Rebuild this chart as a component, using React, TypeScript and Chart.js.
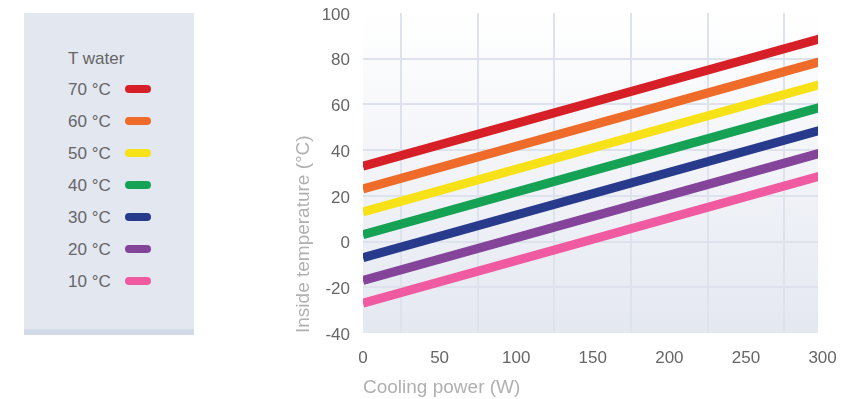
import React, { useEffect, useRef } from "react";
import { Chart, registerables } from "chart.js";

Chart.register(...registerables);

const legendTitle = "T water";
const waterTempLabels = ["70 °C", "60 °C", "50 °C", "40 °C", "30 °C", "20 °C", "10 °C"];
const seriesColors = ["#d71f27", "#ee6b2a", "#f7e117", "#16a255", "#283a8c", "#83449a", "#f05aa0"];

const coolingPower = [0, 300];
const tWater70 = [33, 89];
const tWater60 = [23, 79];
const tWater50 = [13, 69];
const tWater40 = [3, 59];
const tWater30 = [-7, 49];
const tWater20 = [-17, 39];
const tWater10 = [-27, 29];
const seriesValues = [tWater70, tWater60, tWater50, tWater40, tWater30, tWater20, tWater10];

const xTicks = [0, 50, 100, 150, 200, 250, 300];
const xTitle = "Cooling power (W)";
const yTitle = "Inside temperature (°C)";

const FONT = "'Liberation Sans', Arial, Helvetica, sans-serif";

const bgPlugin = {
  id: "plotBg",
  beforeDraw(chart: any) {
    const { ctx, chartArea } = chart;
    if (!chartArea) return;
    const g = ctx.createLinearGradient(0, chartArea.top, 0, chartArea.bottom);
    g.addColorStop(0, "#ffffff");
    g.addColorStop(1, "#e4e8f1");
    ctx.save();
    ctx.fillStyle = g;
    ctx.fillRect(chartArea.left, chartArea.top, chartArea.right - chartArea.left, chartArea.bottom - chartArea.top);
    ctx.restore();
  },
};

export default function App() {
  const ref = useRef<HTMLCanvasElement | null>(null);

  useEffect(() => {
    if (!ref.current) return;
    const datasets = seriesValues.map((vals, i) => ({
      label: waterTempLabels[i],
      data: coolingPower.map((x, j) => ({ x, y: vals[j] })),
      borderColor: seriesColors[i],
      backgroundColor: seriesColors[i],
      borderWidth: 9,
      pointRadius: 0,
      borderCapStyle: "butt" as const,
      tension: 0,
      clip: 0,
    }));
    const chart = new Chart(ref.current, {
      type: "line",
      data: { datasets },
      plugins: [bgPlugin],
      options: {
        animation: false,
        responsive: false,
        devicePixelRatio: 1,
        layout: { padding: { left: 280, right: 32, top: 13, bottom: 0 } },
        plugins: { legend: { display: false }, tooltip: { enabled: false } },
        scales: {
          x: {
            type: "linear",
            min: 0,
            max: 297,
            afterBuildTicks: (scale: any) => {
              scale.ticks = xTicks.map((v) => ({ value: v }));
            },
            afterFit: (scale: any) => {
              scale.height = 66;
              scale.paddingLeft = 0;
              scale.paddingRight = 0;
            },
            border: { display: false },
            grid: {
              offset: true,
              drawTicks: false,
              color: "#dde2ec",
              lineWidth: 2,
            },
            ticks: {
              padding: 15,
              color: "#666666",
              font: { family: FONT, size: 17 },
              maxRotation: 0,
              autoSkip: false,
            },
            title: {
              display: true,
              text: xTitle,
              align: "start",
              color: "#b0b0b0",
              font: { family: FONT, size: 19 },
              padding: { top: 0, bottom: 0 },
            },
          },
          y: {
            type: "linear",
            min: -40,
            max: 100,
            afterFit: (scale: any) => {
              scale.width = 83;
              scale.paddingTop = 0;
              scale.paddingBottom = 0;
            },
            border: { display: false },
            grid: {
              drawTicks: false,
              lineWidth: 2,
              color: (c: any) =>
                c.tick && (c.tick.value === 100 || c.tick.value === -40) ? "rgba(0,0,0,0)" : "#dde2ec",
            },
            ticks: {
              stepSize: 20,
              padding: 13,
              labelOffset: 2,
              color: "#666666",
              font: { family: FONT, size: 17 },
            },
            title: {
              display: true,
              text: yTitle,
              align: "start",
              color: "#b0b0b0",
              font: { family: FONT, size: 19 },
              padding: { top: 12, bottom: 0 },
            },
          },
        },
      },
    });
    return () => chart.destroy();
  }, []);

  return (
    <div style={{ position: "absolute", left: 0, top: 0, width: 850, height: 399, background: "#ffffff", overflow: "hidden" }}>
      <div
        style={{
          position: "absolute",
          left: 24,
          top: 13,
          width: 170,
          height: 322,
          boxSizing: "border-box",
          background: "#e3e7f0",
          borderBottom: "6px solid #d2dae7",
          fontFamily: FONT,
          fontSize: 17,
          color: "#666666",
        }}
      >
        <div style={{ position: "absolute", left: 44, top: 36, height: 20, lineHeight: "20px", whiteSpace: "nowrap" }}>
          {legendTitle}
        </div>
        {waterTempLabels.map((lab, i) => (
          <div
            key={lab}
            style={{
              position: "absolute",
              left: 44,
              top: 67 + 32 * i,
              height: 20,
              width: 120,
              display: "flex",
              alignItems: "center",
              whiteSpace: "nowrap",
            }}
          >
            <span style={{ lineHeight: "20px" }}>{lab}</span>
            <span
              style={{
                position: "absolute",
                left: 57,
                top: 5,
                width: 26,
                height: 8,
                borderRadius: 4,
                background: seriesColors[i],
              }}
            />
          </div>
        ))}
      </div>
      <canvas ref={ref} width={850} height={399} style={{ position: "absolute", left: 0, top: 0, width: 850, height: 399 }} />
    </div>
  );
}
